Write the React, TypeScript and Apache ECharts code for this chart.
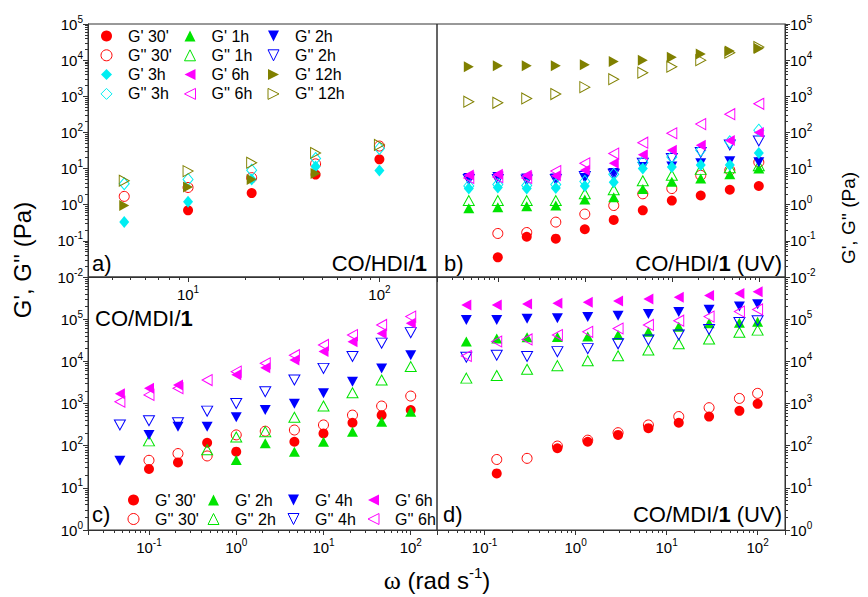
import React, { useEffect, useRef } from 'react';
import * as echarts from 'echarts';

// ---------- Panel a) CO/HDI/1 ----------
const omegaA = [4.64, 10, 21.5, 46.4, 100];
const aG1_30 = [null, 0.7, 2.1, 6.8, 18];
const aG2_30 = [1.7, 3.0, 5.6, 13.5, 42];
const aG1_3h = [0.33, 1.2, 5.0, 11.5, 8.8];
const aG2_3h = [3.8, 5.0, 9.0, 19, 36];
const aG1_12h = [0.95, 3.1, 5.0, 7.3, null];
const aG2_12h = [4.6, 8.5, 14.5, 27, 45];

// ---------- Panel b) CO/HDI/1 (UV) ----------
const omegaB = [0.0464, 0.1, 0.215, 0.464, 1, 2.15, 4.64, 10, 21.5, 46.4, 100];
const bG1_30 = [null, 0.035, 0.13, 0.115, 0.21, 0.38, 0.7, 1.3, 1.8, 2.6, 3.3];
const bG2_30 = [null, 0.16, 0.17, 0.33, 0.55, 0.95, 2.0, 2.8, 6.5, 9, 15];
const bG1_1h = [0.8, 0.85, 0.9, 0.95, 1.4, 1.6, 2.7, 4.3, 5.3, 7, 10];
const bG2_1h = [1.3, 1.3, 1.3, 1.3, 2.0, 2.6, 4.6, 6.5, 9.5, 10.5, 12];
const bG1_2h = [5.5, 5.8, 5.3, 5.3, 5.5, 7.5, 11, 11.5, 14, 16, 15];
const bG2_2h = [5, 5, 4.8, 5, 6, 7, 14, 19, 28, 45, 58];
const bG1_3h = [2.8, 3, 2.8, 2.9, 3.3, 4.2, 10, 11, 12.5, 12.5, 27];
const bG2_3h = [3.3, 3.6, 3.4, 3.6, 4.4, 7, 15, 21, 32, 55, 115];
const bG1_6h = [6.6, 7, 6.5, 6.3, 9, 14, 24, 32, 44, 60, 100];
const bG2_6h = [5.5, 5.8, 5.5, 8.5, 14, 26, 52, 95, 170, 320, 620];
const bG1_12h = [6600, 7000, 7000, 7000, 7400, 9100, 10000, 12000, 14800, 18000, 21000];
const bG2_12h = [710, 660, 870, 1150, 1790, 2970, 4500, 6600, 10000, 16000, 23000];

// ---------- Panel c) CO/MDI/1 ----------
const omegaC = [0.0464, 0.1, 0.215, 0.464, 1, 2.15, 4.64, 10, 21.5, 46.4, 100];
const cG1_30 = [null, 28, 40, 117, 72, null, 124, 195, 350, 530, 700];
const cG2_30 = [null, 45, 65, 57, 180, 220, 235, 310, 530, 870, 1500];
const cG1_2h = [null, null, null, null, 46, 114, 72, 124, 215, 370, 640];
const cG2_2h = [null, 130, null, 80, 160, 215, 470, 870, 1800, 3600, 7500];
const cG1_4h = [44, 180, 280, 280, 470, 700, 980, 1750, 3300, 6800, 14000];
const cG2_4h = [310, 390, 350, 660, 1000, 1900, 3600, 6800, 13000, 27000, 48000];
const cG1_6h = [1700, 2300, 2750, null, 4800, 7000, 10700, 17000, 29000, 46000, 80000];
const cG2_6h = [1100, 1600, 2300, 3600, 5700, 9000, 14000, 24500, 42000, 73000, 115000];

// ---------- Panel d) CO/MDI/1 (UV) ----------
const omegaD = [0.063, 0.136, 0.293, 0.631, 1.36, 2.93, 6.31, 13.6, 29.3, 63.1, 100];
const dG1_30 = [null, 22, null, 87, 124, 180, 260, 350, 490, 670, 980];
const dG2_30 = [null, 47, 50, 98, 135, 203, 310, 490, 795, 1320, 1740];
const dG1_2h = [29500, 35000, 37000, 38000, 39000, 42000, 50000, 66000, 80000, 82000, 87000];
const dG2_2h = [4000, 4600, 6500, 7900, 10300, 13600, 18500, 26000, 34000, 49000, 55000];
const dG1_4h = [95000, 95000, 102000, 105000, 112000, 120000, 132000, 148000, 168000, 200000, 225000];
const dG2_4h = [12500, 14000, 13000, 17000, 20000, 26000, 32000, 42000, 57000, 83000, 92000];
const dG1_6h = [218000, 218000, 229000, 240000, 251000, 269000, 302000, 331000, 363000, 407000, 447000];
const dG2_6h = [13400, 29500, 33000, 42000, 50000, 60000, 73000, 92000, 115000, 151000, 170000];

// ---------- styles ----------
const LS = '"Liberation Sans", Arial, sans-serif';
const RED = '#ff0000';
const GREEN = '#00e400';
const BLUE = '#0000ff';
const CYAN = '#00eef2';
const MAGENTA = '#ff00ff';
const OLIVE = '#808000';
const FRAME = '#333333';
const SYM_DOWN = 'path://M0,0L10,0L5,10Z';
const SYM_LEFT = 'path://M10,0L10,10L0,5Z';
const SYM_RIGHT = 'path://M0,0L10,5L0,10Z';
const ZW = '\u200b';

type Sty = { symbol: string; size: number | number[]; color: string; filled: boolean };
const sCircle = (c: string, f: boolean): Sty => ({ symbol: 'circle', size: 10, color: c, filled: f });
const sUp = (c: string, f: boolean): Sty => ({ symbol: 'triangle', size: [11, 10], color: c, filled: f });
const sDown = (c: string, f: boolean): Sty => ({ symbol: SYM_DOWN, size: [11, 10], color: c, filled: f });
const sLeft = (c: string, f: boolean): Sty => ({ symbol: SYM_LEFT, size: [10, 11], color: c, filled: f });
const sRight = (c: string, f: boolean): Sty => ({ symbol: SYM_RIGHT, size: [10, 11], color: c, filled: f });
const sDiamond = (c: string, f: boolean): Sty => ({ symbol: 'diamond', size: [10, 12], color: c, filled: f });

function scatter(name: string, xs: number[], ys: (number | null)[], st: Sty, idx: number) {
  const data: number[][] = [];
  xs.forEach((x, i) => {
    const y = ys[i];
    if (y != null) data.push([x, y]);
  });
  return {
    type: 'scatter',
    name,
    xAxisIndex: idx,
    yAxisIndex: idx,
    data,
    symbol: st.symbol,
    symbolSize: st.size,
    itemStyle: st.filled
      ? { color: st.color, opacity: 1 }
      : { color: 'rgba(255,255,255,0)', borderColor: st.color, borderWidth: 1, opacity: 1 },
    emphasis: { disabled: true },
  };
}

const decFmt = (v: number) => {
  const l = Math.log10(v);
  const e = Math.round(l);
  if (Math.abs(l - e) > 1e-6) return '';
  return `{b|10}{s|${e}}`;
};

const RICH = {
  b: { fontSize: 15, lineHeight: 20, fontFamily: LS, color: '#000' },
  s: { fontSize: 10, lineHeight: 10, verticalAlign: 'top', fontFamily: LS, color: '#000' },
};

function axis(extra: any) {
  return {
    type: 'log',
    logBase: 10,
    axisLine: { show: true, lineStyle: { color: FRAME, width: 1 } },
    axisTick: { show: true, inside: false, length: 5, lineStyle: { color: FRAME, width: 1 } },
    minorTick: { show: true, splitNumber: 9, length: 3, lineStyle: { color: FRAME, width: 1 } },
    splitLine: { show: false },
    minorSplitLine: { show: false },
    ...extra,
    axisLabel: { formatter: decFmt, color: '#000', fontFamily: LS, rich: RICH, ...(extra.axisLabel || {}) },
  };
}

function buildOption() {
  const series: any[] = [
    // panel a
    scatter("G' 30'", omegaA, aG1_30, sCircle(RED, true), 0),
    scatter("G'' 30'", omegaA, aG2_30, sCircle(RED, false), 0),
    scatter("G' 3h", omegaA, aG1_3h, sDiamond(CYAN, true), 0),
    scatter("G'' 3h", omegaA, aG2_3h, sDiamond(CYAN, false), 0),
    scatter("G' 12h", omegaA, aG1_12h, sRight(OLIVE, true), 0),
    scatter("G'' 12h", omegaA, aG2_12h, sRight(OLIVE, false), 0),
    // panel b
    scatter("G' 30'", omegaB, bG1_30, sCircle(RED, true), 1),
    scatter("G'' 30'", omegaB, bG2_30, sCircle(RED, false), 1),
    scatter("G' 1h", omegaB, bG1_1h, sUp(GREEN, true), 1),
    scatter("G'' 1h", omegaB, bG2_1h, sUp(GREEN, false), 1),
    scatter("G' 2h", omegaB, bG1_2h, sDown(BLUE, true), 1),
    scatter("G'' 2h", omegaB, bG2_2h, sDown(BLUE, false), 1),
    scatter("G' 3h", omegaB, bG1_3h, sDiamond(CYAN, true), 1),
    scatter("G'' 3h", omegaB, bG2_3h, sDiamond(CYAN, false), 1),
    scatter("G' 6h", omegaB, bG1_6h, sLeft(MAGENTA, true), 1),
    scatter("G'' 6h", omegaB, bG2_6h, sLeft(MAGENTA, false), 1),
    scatter("G' 12h", omegaB, bG1_12h, sRight(OLIVE, true), 1),
    scatter("G'' 12h", omegaB, bG2_12h, sRight(OLIVE, false), 1),
    // panel c
    scatter("G' 30'" + ZW, omegaC, cG1_30, sCircle(RED, true), 2),
    scatter("G'' 30'" + ZW, omegaC, cG2_30, sCircle(RED, false), 2),
    scatter("G' 2h" + ZW, omegaC, cG1_2h, sUp(GREEN, true), 2),
    scatter("G'' 2h" + ZW, omegaC, cG2_2h, sUp(GREEN, false), 2),
    scatter("G' 4h" + ZW, omegaC, cG1_4h, sDown(BLUE, true), 2),
    scatter("G'' 4h" + ZW, omegaC, cG2_4h, sDown(BLUE, false), 2),
    scatter("G' 6h" + ZW, omegaC, cG1_6h, sLeft(MAGENTA, true), 2),
    scatter("G'' 6h" + ZW, omegaC, cG2_6h, sLeft(MAGENTA, false), 2),
    // panel d
    scatter("G' 30'" + ZW, omegaD, dG1_30, sCircle(RED, true), 3),
    scatter("G'' 30'" + ZW, omegaD, dG2_30, sCircle(RED, false), 3),
    scatter("G' 2h" + ZW, omegaD, dG1_2h, sUp(GREEN, true), 3),
    scatter("G'' 2h" + ZW, omegaD, dG2_2h, sUp(GREEN, false), 3),
    scatter("G' 4h" + ZW, omegaD, dG1_4h, sDown(BLUE, true), 3),
    scatter("G'' 4h" + ZW, omegaD, dG2_4h, sDown(BLUE, false), 3),
    scatter("G' 6h" + ZW, omegaD, dG1_6h, sLeft(MAGENTA, true), 3),
    scatter("G'' 6h" + ZW, omegaD, dG2_6h, sLeft(MAGENTA, false), 3),
  ];

  const legendBase = {
    orient: 'vertical',
    padding: 0,
    itemWidth: 11,
    itemHeight: 11,
    itemGap: 3.3,
    itemStyle: { borderWidth: 1 },
    textStyle: { fontSize: 16, lineHeight: 16, fontFamily: LS, color: '#000', padding: [0, 0, 0, 11] },
    formatter: (n: string) => n.replace(ZW, ''),
  };

  const legend = [
    { ...legendBase, left: 100.5, top: 28, data: ["G' 30'", "G'' 30'", "G' 3h", "G'' 3h"] },
    { ...legendBase, left: 184, top: 28, data: ["G' 1h", "G'' 1h", "G' 6h", "G'' 6h"] },
    { ...legendBase, left: 267.5, top: 28, data: ["G' 2h", "G'' 2h", "G' 12h", "G'' 12h"] },
    { ...legendBase, left: 127.5, top: 492, itemGap: 3, data: ["G' 30'" + ZW, "G'' 30'" + ZW] },
    { ...legendBase, left: 207.5, top: 492, itemGap: 3, data: ["G' 2h" + ZW, "G'' 2h" + ZW] },
    { ...legendBase, left: 287.5, top: 492, itemGap: 3, data: ["G' 4h" + ZW, "G'' 4h" + ZW] },
    { ...legendBase, left: 367.5, top: 492, itemGap: 3, data: ["G' 6h" + ZW, "G'' 6h" + ZW] },
  ];

  const gridBase = { show: true, borderColor: FRAME, borderWidth: 1, backgroundColor: 'rgba(0,0,0,0)' };
  const grid = [
    { ...gridBase, left: 88, top: 24, width: 349, height: 253 },
    { ...gridBase, left: 437, top: 24, width: 348, height: 253 },
    { ...gridBase, left: 88, top: 277, width: 349, height: 253 },
    { ...gridBase, left: 437, top: 277, width: 348, height: 253 },
  ];

  const xAxis = [
    axis({ gridIndex: 0, min: 3, max: 200, splitNumber: 2, axisLabel: { margin: 7 } }),
    axis({ gridIndex: 1, min: 0.02, max: 200, splitNumber: 4, axisLabel: { show: false } }),
    axis({ gridIndex: 2, min: 0.02, max: 200, splitNumber: 4, axisLabel: { margin: 7 } }),
    axis({ gridIndex: 3, min: 0.03, max: 200, splitNumber: 4, axisLabel: { margin: 7 } }),
  ];
  const yAxis = [
    axis({ gridIndex: 0, min: 0.01, max: 1e5, splitNumber: 7, position: 'left', axisLabel: { margin: 5 } }),
    axis({ gridIndex: 1, min: 0.01, max: 1e5, splitNumber: 7, position: 'right', axisLabel: { margin: 5 } }),
    axis({ gridIndex: 2, min: 1, max: 1e6, splitNumber: 6, position: 'left', axisLabel: { margin: 5, showMaxLabel: false } }),
    axis({ gridIndex: 3, min: 1, max: 1e6, splitNumber: 6, position: 'right', axisLabel: { margin: 5, showMaxLabel: false } }),
  ];

  const txt = (x: number, y: number, text: string, align: string, size = 22) => ({
    type: 'text',
    x,
    y,
    silent: true,
    style: {
      text,
      align,
      verticalAlign: 'middle',
      fill: '#000',
      fontSize: size,
      fontFamily: LS,
      rich: {
        n: { fontSize: size, fontFamily: LS, fill: '#000', color: '#000' },
        b: { fontSize: size, fontFamily: LS, fontWeight: 'bold', color: '#000' },
      },
    },
  });

  const graphic = [
    txt(92, 263, 'a)', 'left'),
    txt(427, 263, '{n|CO/HDI/}{b|1}', 'right'),
    txt(444, 263, 'b)', 'left'),
    txt(782, 263, '{n|CO/HDI/}{b|1}{n| (UV)}', 'right'),
    txt(95, 318, '{n|CO/MDI/}{b|1}', 'left'),
    txt(92, 514, 'c)', 'left'),
    txt(443, 514, 'd)', 'left'),
    txt(782, 514, '{n|CO/MDI/}{b|1}{n| (UV)}', 'right'),
    {
      type: 'text',
      x: 22,
      y: 260,
      rotation: Math.PI / 2,
      silent: true,
      style: { text: "G', G'' (Pa)", align: 'center', verticalAlign: 'middle', fill: '#000', fontSize: 24, fontFamily: LS },
    },
    {
      type: 'text',
      x: 848,
      y: 218,
      rotation: Math.PI / 2,
      silent: true,
      style: { text: "G', G'' (Pa)", align: 'center', verticalAlign: 'middle', fill: '#000', fontSize: 19, fontFamily: LS },
    },
    {
      type: 'text',
      x: 437,
      y: 580,
      silent: true,
      style: {
        text: '{w|ω}{t| (rad s}{s|-1}{t|)}',
        align: 'center',
        verticalAlign: 'middle',
        fill: '#000',
        fontSize: 24,
        fontFamily: LS,
        rich: {
          w: { fontSize: 26, fontFamily: '"Liberation Serif", serif', lineHeight: 30, color: '#000' },
          t: { fontSize: 24, fontFamily: LS, lineHeight: 30, color: '#000' },
          s: { fontSize: 15, fontFamily: LS, lineHeight: 15, verticalAlign: 'top', color: '#000' },
        },
      },
    },
  ];

  return {
    animation: false,
    backgroundColor: '#ffffff',
    grid,
    xAxis,
    yAxis,
    legend,
    series,
    graphic,
  };
}

export default function App() {
  const ref = useRef<HTMLDivElement>(null);
  useEffect(() => {
    const chart = echarts.init(ref.current as HTMLDivElement, undefined, { renderer: 'svg' });
    chart.setOption(buildOption() as any);
    return () => chart.dispose();
  }, []);
  return (
    <div
      ref={ref}
      style={{ position: 'absolute', left: 0, top: 0, width: 868, height: 597, background: '#fff' }}
    />
  );
}
